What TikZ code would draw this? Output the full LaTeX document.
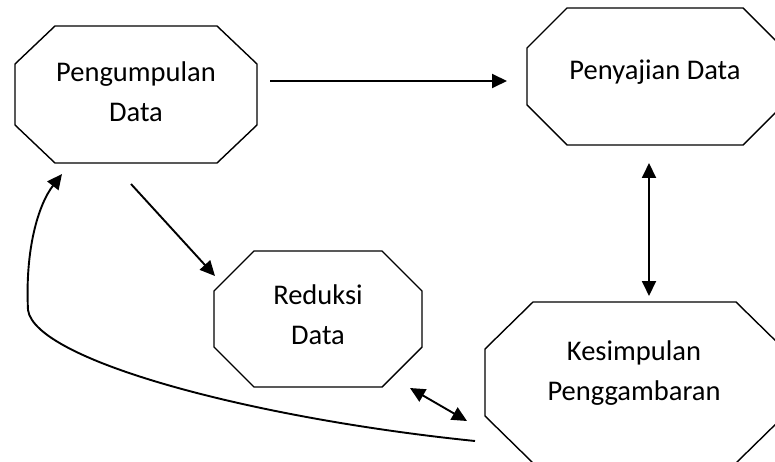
\documentclass[tikz,border=0pt]{standalone}
\usepackage{fontspec}
\setmainfont{Carlito}
\usetikzlibrary{arrows.meta}
\begin{document}
\begin{tikzpicture}[x=1pt,y=-1pt,
  octa/.style={line width=1.4pt, line join=miter},
  lbl/.style={align=center, inner sep=0pt, font=\fontsize{28.5}{40}\selectfont},
  tip/.tip={Triangle[length=15pt,width=14pt]},
  conn/.style={line width=1.9pt, -tip},
  bconn/.style={line width=1.9pt, tip-tip}]
\useasboundingbox (0,0) rectangle (775,462);
\newcommand{\octagon}[6]{% x1 y1 x2 y2 ch cv
  \draw[octa] ({#1+#5},#2) -- ({#3-#5},#2) -- (#3,{#2+#6}) -- (#3,{#4-#6}) -- ({#3-#5},#4) -- ({#1+#5},#4) -- (#1,{#4-#6}) -- (#1,{#2+#6}) -- cycle;}
\begin{scope}
\clip (0,0) rectangle (775,462);
\octagon{15}{26}{257}{163}{40}{38}
\octagon{527}{8}{783}{145}{40}{40}
\octagon{214}{251}{422}{387}{40}{40}
\octagon{485}{302}{784}{463}{48}{47}
\end{scope}
\node[lbl] (peng) at (136,92) {Pengumpulan\\Data};
\node[lbl, anchor=base] (peny) at (655,80) {Penyajian Data};
\node[lbl] (red) at (318,315) {Reduksi\\Data};
\node[lbl] (kes) at (634,373) {Kesimpulan\\Penggambaran};
\coordinate (a1s) at (270,81);
\coordinate (a1e) at (507,81);
\coordinate (a2s) at (131,184);
\coordinate (a2e) at (215,276);
\coordinate (a3s) at (649,163);
\coordinate (a3e) at (649,296);
\coordinate (a4s) at (410,388);
\coordinate (a4e) at (467,421);
\coordinate (a5s) at (475,441);
\coordinate (a5m) at (28,310);
\coordinate (a5e) at (62,174);
\draw[conn] (a1s) -- (a1e);
\draw[conn] (a2s) -- (a2e);
\draw[bconn] (a3s) -- (a3e);
\draw[bconn] (a4s) -- (a4e);
\draw[conn] (a5s) .. controls (250,418) and (35,360) .. (a5m) .. controls (25,250) and (38,205) .. (a5e);
\end{tikzpicture}
\end{document}
